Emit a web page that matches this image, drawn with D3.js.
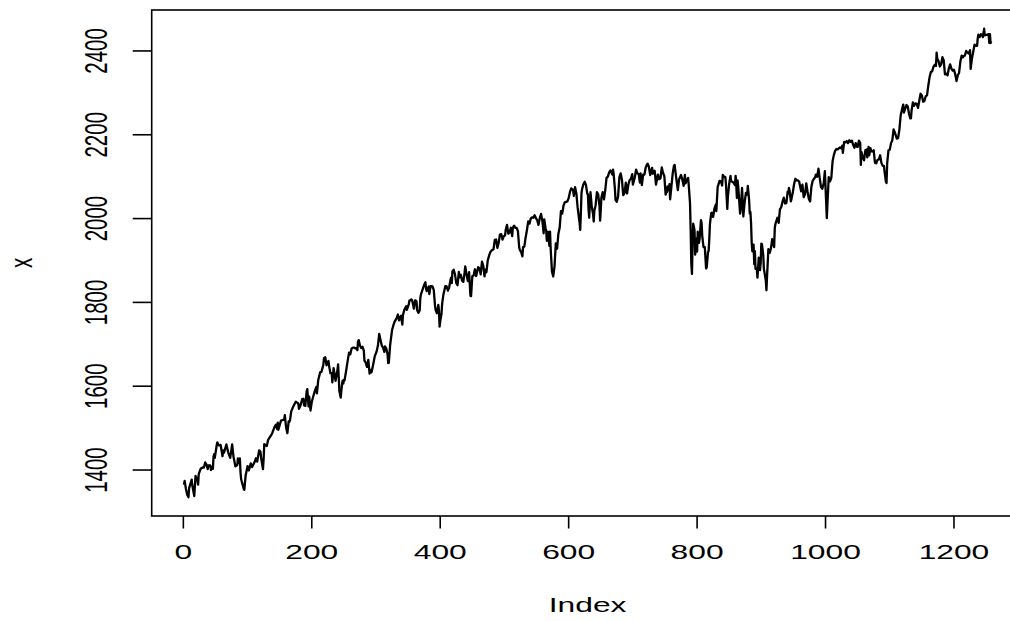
<!DOCTYPE html>
<html>
<head>
<meta charset="utf-8">
<script src="https://cdn.jsdelivr.net/npm/d3@7"></script>
<style>
  html, body { margin: 0; padding: 0; background: #fff; overflow: hidden; }
  text { font-family: "Liberation Sans", Arial, sans-serif; fill: #000; }
</style>
</head>
<body>
<svg id="chart" width="1010" height="621"></svg>
<script>
// Series length (R's Index runs 1..seriesLength)
const seriesLength = 1258;

// Trading-day index of each sampled close
const tradingDay = [
  1,2,4,6,8,9,13,14,17,19,21,
  22,23,24,27,30,32,34,36,38,39,42,43,44,
  46,47,48,49,52,53,55,58,60,61,62,63,
  64,67,70,73,76,78,81,84,
  85,87,88,89,90,94,95,97,100,102,105,
  107,111,113,115,118,120,121,124,125,
  126,130,132,138,142,144,146,
  147,148,152,157,158,160,162,164,165,
  166,168,171,175,179,180,182,184,185,
  187,188,190,192,193,195,196,198,200,204,207,
  208,210,213,215,218,219,221,223,226,227,229,
  231,232,234,237,240,241,243,245,247,248,249,
  250,251,253,255,258,260,262,264,266,268,270,271,
  272,273,275,277,279,281,282,284,286,288,290,292,293,
  294,296,298,301,303,305,307,309,311,313,
  314,316,318,319,320,322,325,327,329,332,334,336,
  337,339,341,342,344,347,348,351,352,355,356,
  357,359,361,363,364,366,368,369,370,373,375,377,
  378,379,382,383,385,388,390,392,393,395,397,398,
  399,400,402,403,405,408,410,412,414,416,417,
  418,419,421,423,425,427,429,430,432,434,436,438,
  439,441,443,445,447,448,450,452,454,456,457,459,
  460,461,463,465,467,469,470,472,474,476,478,480,
  481,483,485,487,489,491,493,495,497,499,501,
  502,504,506,508,510,512,513,515,517,519,521,523,
  524,526,528,529,531,533,535,537,539,541,543,
  545,547,549,551,553,555,557,559,561,562,564,565,
  566,568,570,571,572,574,576,578,580,582,584,586,588,
  590,592,594,596,598,600,602,604,607,
  608,610,612,614,616,617,618,619,620,621,623,625,627,629,
  630,631,632,634,636,638,639,640,642,644,646,648,649,
  650,651,653,655,657,659,661,663,665,668,
  669,670,672,673,675,677,679,681,683,685,687,689,690,
  691,693,695,697,699,700,703,705,707,709,711,
  712,714,716,718,720,722,723,725,727,730,731,
  732,734,736,739,741,743,745,747,749,751,752,753,
  754,756,757,758,760,762,764,765,767,769,770,772,775,
  777,779,781,782,784,786,787,789,790,791,792,793,794,796,
  797,798,799,800,801,803,804,806,807,808,810,812,814,815,817,
  818,819,820,822,823,825,827,829,830,832,835,837,839,
  840,842,844,845,847,848,850,852,853,856,859,
  860,861,862,863,864,867,868,870,871,872,874,876,878,879,881,
  882,883,884,885,886,888,889,890,891,893,894,896,898,899,900,
  901,903,904,907,908,909,910,911,913,915,917,920,
  921,922,925,927,929,931,933,935,937,939,941,942,
  943,944,946,947,949,951,953,955,957,959,962,
  964,966,968,970,972,974,976,978,980,983,984,
  985,987,989,991,993,995,997,999,1001,1002,1003,1005,
  1007,1009,1011,1013,1015,1017,1019,1021,1023,1025,1026,
  1027,1029,1031,1033,1035,1037,1039,1041,1043,1045,1047,1049,
  1050,1052,1054,1055,1056,1058,1060,1062,1064,1065,1067,1068,1070,
  1071,1073,1075,1077,1079,1081,1083,1085,1087,1089,1091,
  1092,1094,1095,1096,1098,1100,1102,1104,1106,1108,1111,
  1113,1115,1117,1119,1121,1122,1124,1126,1128,1130,1132,1133,
  1134,1136,1138,1140,1142,1144,1146,1148,1150,1152,1153,
  1154,1156,1158,1160,1162,1164,1166,1168,1170,1172,
  1173,1174,1176,1178,1180,1182,1184,1186,1188,1190,1192,1194,1195,
  1196,1198,1200,1202,1204,1206,1208,1210,1212,1214,
  1215,1217,1219,1221,1223,1225,1226,1228,1230,1232,1234,1236,
  1237,1238,1240,1242,1244,1245,1247,1248,1250,1252,1254,1255,1256,1257,1258
];

// Closing level at each sampled trading day
const close = [
  1365,1374,1355,1341,1335,1357,1377,1363,1338,1386,1379,
  1375,1365,1391,1403,1406,1406,1418,1413,1402,1411,1411,1400,1407,
  1403,1432,1438,1429,1460,1466,1459,1460,1442,1433,1447,1441,
  1445,1461,1441,1429,1461,1433,1409,1412,
  1428,1417,1428,1395,1378,1355,1353,1387,1409,1399,1416,
  1407,1419,1428,1420,1447,1444,1430,1402,1426,
  1462,1457,1472,1486,1503,1508,1498,
  1513,1496,1518,1520,1531,1502,1488,1516,1515,
  1518,1540,1551,1563,1559,1546,1552,1563,1569,
  1570,1554,1553,1588,1593,1552,1575,1542,1563,1585,1598,
  1583,1614,1633,1634,1651,1667,1669,1650,1660,1648,1631,
  1631,1609,1643,1613,1639,1652,1588,1573,1603,1613,1606,
  1615,1614,1632,1652,1680,1676,1690,1692,1692,1690,1691,1686,
  1706,1710,1697,1691,1694,1685,1661,1656,1646,1663,1630,1639,1633,
  1640,1655,1671,1683,1697,1725,1710,1697,1692,1682,
  1695,1690,1676,1655,1656,1698,1734,1745,1754,1762,1771,1757,
  1763,1768,1747,1770,1782,1791,1782,1795,1804,1807,1806,
  1800,1785,1805,1803,1782,1775,1781,1810,1819,1833,1842,1848,
  1832,1827,1838,1820,1839,1838,1829,1790,1781,1774,1794,1782,
  1742,1755,1773,1797,1819,1839,1838,1828,1836,1854,1859,
  1846,1874,1878,1867,1846,1841,1873,1860,1866,1852,1849,1872,
  1886,1866,1851,1872,1816,1815,1863,1864,1879,1863,1870,1884,
  1883,1881,1867,1897,1888,1862,1878,1872,1900,1911,1920,1924,
  1925,1927,1949,1950,1930,1942,1962,1963,1950,1958,1960,
  1973,1985,1964,1967,1978,1958,1978,1983,1978,1978,1970,1931,
  1925,1920,1910,1932,1933,1955,1972,1993,1988,2000,2003,
  2002,2008,2001,1996,1985,2001,2011,1995,1965,1998,1977,1972,
  1947,1968,1935,1969,1928,1874,1862,1886,1941,1928,1964,1978,2018,
  2012,2031,2039,2040,2041,2049,2063,2072,2068,
  2054,2075,2060,2026,2002,1990,1973,2013,2061,2071,2082,2088,2080,2059,
  2058,2021,2002,2063,2028,2011,1993,2019,2032,2063,2058,2030,1995,
  2021,2050,2063,2046,2068,2097,2100,2110,2115,2105,
  2117,2108,2071,2044,2040,2053,2099,2108,2092,2056,2061,2086,2068,
  2060,2081,2092,2095,2106,2081,2098,2117,2108,2106,2086,
  2108,2080,2105,2105,2122,2129,2131,2123,2104,2121,2107,
  2112,2114,2081,2105,2094,2096,2122,2109,2101,2057,2063,2063,
  2077,2068,2082,2046,2076,2108,2126,2128,2103,2079,2068,2094,2104,
  2093,2078,2104,2084,2092,2097,2080,2036,1971,1893,1868,1941,1988,1972,
  1914,1949,1952,1921,1969,1942,1953,1996,1990,1959,1932,1932,1881,1884,1920,
  1923,1951,1987,2013,2014,2004,2024,2033,2018,2075,2090,2089,2079,
  2104,2100,2099,2081,2023,2053,2083,2102,2089,2087,2080,
  2102,2080,2049,2091,2077,2012,2022,2073,2041,2005,2038,2061,2057,2078,2044,
  2012,2016,1990,1944,1922,1938,1891,1922,1880,1881,1859,1907,1877,1893,1940,
  1939,1913,1880,1852,1829,1865,1895,1927,1918,1929,1951,1932,
  1978,1987,2002,1990,2022,2027,2040,2050,2036,2037,2064,2060,
  2073,2067,2041,2047,2062,2082,2095,2091,2091,2088,2065,
  2081,2051,2058,2084,2064,2047,2041,2076,2090,2097,2099,
  2105,2100,2119,2096,2075,2071,2083,2113,2038,2001,2036,2099,
  2089,2097,2137,2152,2162,2166,2165,2168,2170,2167,2174,
  2157,2183,2182,2185,2180,2187,2183,2186,2176,2169,2180,2171,
  2171,2186,2181,2128,2159,2147,2139,2163,2165,2146,2171,2151,2168,
  2161,2160,2163,2133,2132,2140,2141,2151,2133,2126,2126,
  2111,2088,2085,2132,2163,2164,2180,2187,2213,2205,2191,
  2192,2212,2246,2260,2272,2253,2262,2271,2268,2250,2239,2239,
  2258,2277,2269,2275,2274,2264,2281,2298,2294,2279,2279,
  2281,2292,2294,2317,2337,2350,2351,2362,2367,2364,
  2396,2381,2376,2363,2368,2385,2378,2344,2346,2342,2358,2368,2363,
  2358,2353,2355,2344,2328,2342,2348,2375,2389,2385,
  2388,2389,2400,2396,2394,2402,2357,2382,2398,2415,2412,2412,
  2430,2439,2433,2440,2438,2433,2453,2437,2438,2439,2440,2419,2440,2419,2423
];

const xTicks = [0, 200, 400, 600, 800, 1000, 1200];
const yTicks = [1400, 1600, 1800, 2000, 2200, 2400];
const xTitle = "Index";
const yTitle = "x";

// Plot region and text stretch
const plot = { left: 151.7, right: 1023.5, top: 10, bottom: 516 };
const fontSize = 20.5;
const stretchX = 1.55;

const svg = d3.select("#chart");

// R-style axis limits: data range padded by 4% on each side
const pad = (lo, hi) => [lo - 0.04 * (hi - lo), hi + 0.04 * (hi - lo)];
const x = d3.scaleLinear()
  .domain(pad(1, seriesLength))
  .range([plot.left, plot.right]);
const yExt = d3.extent(close);
const y = d3.scaleLinear()
  .domain(pad(yExt[0], yExt[1]))
  .range([plot.bottom, plot.top]);

const points = tradingDay.map((d, i) => [d, close[i]]);

// Series line
svg.append("path")
  .datum(points)
  .attr("fill", "none")
  .attr("stroke", "#000")
  .attr("stroke-width", 2.3)
  .attr("stroke-linejoin", "round")
  .attr("d", d3.line().x(d => x(d[0])).y(d => y(d[1])));

// Plot box
svg.append("rect")
  .attr("x", plot.left).attr("y", plot.top)
  .attr("width", plot.right - plot.left)
  .attr("height", plot.bottom - plot.top)
  .attr("fill", "none").attr("stroke", "#000").attr("stroke-width", 1.6);

// Bottom axis ticks and labels
const xAxis = svg.append("g");
xAxis.selectAll("line").data(xTicks).join("line")
  .attr("x1", d => x(d)).attr("x2", d => x(d))
  .attr("y1", plot.bottom).attr("y2", plot.bottom + 12.5)
  .attr("stroke", "#000").attr("stroke-width", 1.6);
xAxis.selectAll("text").data(xTicks).join("text")
  .attr("transform", d => `translate(${x(d)},558.5) scale(${stretchX},1)`)
  .attr("text-anchor", "middle")
  .attr("font-size", fontSize)
  .text(d => d);

// Left axis ticks and labels
const yAxis = svg.append("g");
yAxis.selectAll("line").data(yTicks).join("line")
  .attr("x1", plot.left).attr("x2", plot.left - 19)
  .attr("y1", d => y(d)).attr("y2", d => y(d))
  .attr("stroke", "#000").attr("stroke-width", 1.6);
yAxis.selectAll("text").data(yTicks).join("text")
  .attr("transform", d => `translate(107,${y(d)}) scale(${stretchX},1) rotate(-90)`)
  .attr("text-anchor", "middle")
  .attr("font-size", fontSize)
  .text(d => d);

// Axis titles
svg.append("text")
  .attr("transform", `translate(${(plot.left + plot.right) / 2},612) scale(${stretchX},1)`)
  .attr("text-anchor", "middle")
  .attr("font-size", fontSize)
  .text(xTitle);
svg.append("text")
  .attr("transform", `translate(32,${(plot.top + plot.bottom) / 2}) scale(${stretchX},1) rotate(-90)`)
  .attr("text-anchor", "middle")
  .attr("font-size", fontSize)
  .text(yTitle);
</script>
</body>
</html>
